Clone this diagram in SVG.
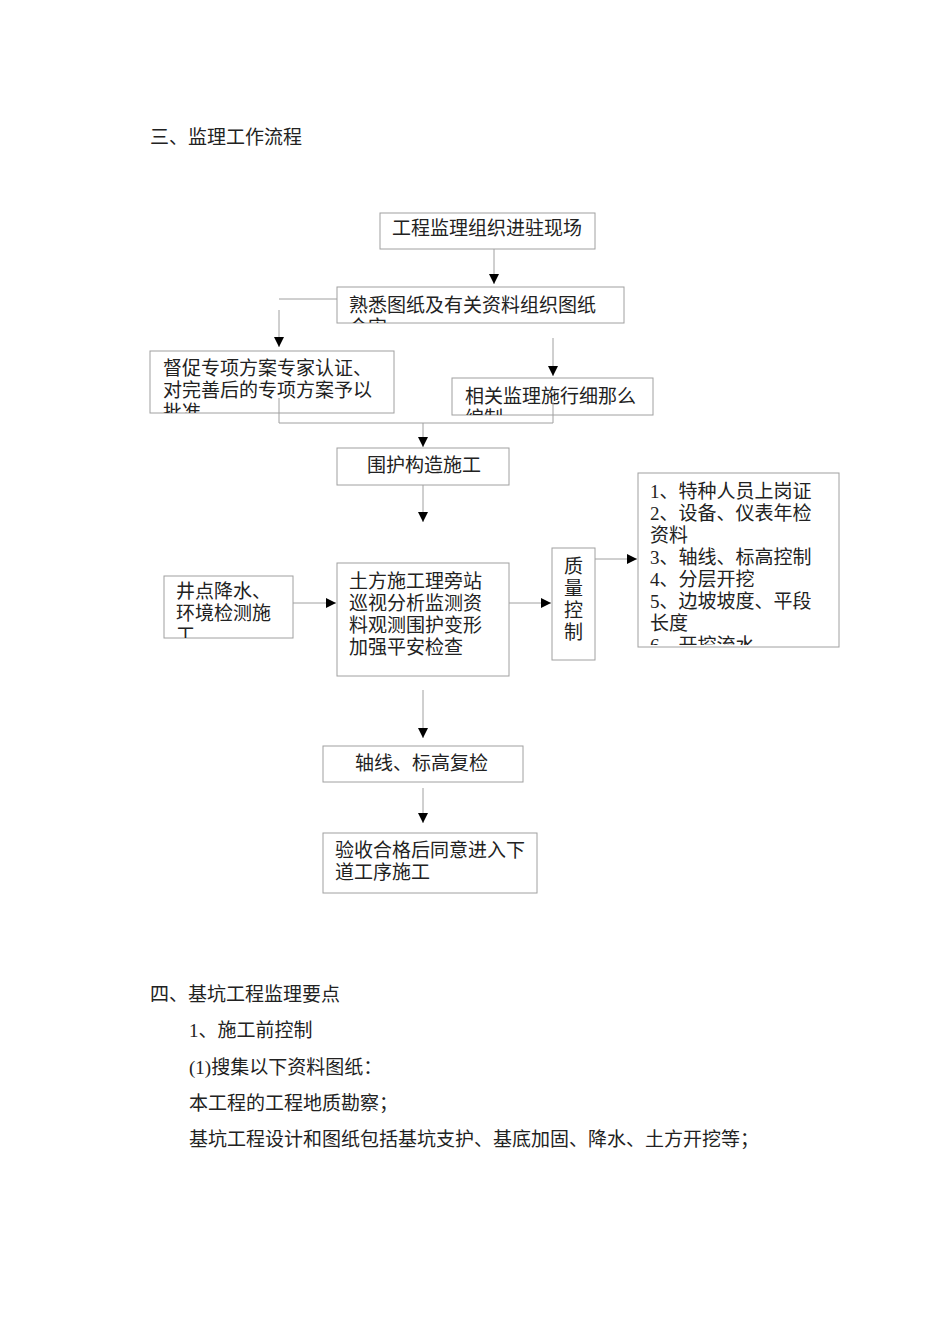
<svg xmlns="http://www.w3.org/2000/svg" width="950" height="1344" viewBox="0 0 950 1344">
<style>
text{font-family:"Liberation Serif","Noto Sans CJK SC",serif;font-size:19px;fill:#222}
.box{fill:#fff;stroke:#a0a0a0;stroke-width:1}
.conn{fill:none;stroke:#a0a0a0;stroke-width:1}
</style>
<defs>
<marker id="arr" markerUnits="userSpaceOnUse" markerWidth="11" markerHeight="11" refX="10" refY="5" orient="auto">
<path d="M0,0 L10,5 L0,10 z" fill="#000"/>
</marker>
<clipPath id="cp2"><rect x="337" y="287" width="287" height="36"/></clipPath>
<clipPath id="cp3"><rect x="150" y="351" width="244" height="62"/></clipPath>
<clipPath id="cp4"><rect x="452" y="378" width="201" height="37"/></clipPath>
<clipPath id="cp6"><rect x="164" y="576" width="129" height="62"/></clipPath>
<clipPath id="cp9"><rect x="638" y="473" width="201" height="172"/></clipPath>
</defs>
<rect width="950" height="1344" fill="#fff"/>
<text x="150" y="144">三、监理工作流程</text>

<g id="n1"><rect class="box" x="380" y="213" width="215" height="36"/><text x="392" y="235">工程监理组织进驻现场</text></g>
<g id="n2"><rect class="box" x="337" y="287" width="287" height="36"/><g clip-path="url(#cp2)"><text x="349" y="312">熟悉图纸及有关资料组织图纸</text><text x="349" y="334">会审</text></g></g>
<g id="n3"><rect class="box" x="150" y="351" width="244" height="62"/><g clip-path="url(#cp3)"><text x="163" y="375">督促专项方案专家认证、</text><text x="163" y="397">对完善后的专项方案予以</text><text x="163" y="419">批准</text></g></g>
<g id="n4"><rect class="box" x="452" y="378" width="201" height="37"/><g clip-path="url(#cp4)"><text x="465" y="403">相关监理施行细那么</text><text x="465" y="425">编制</text></g></g>
<g id="n5"><rect class="box" x="337" y="448" width="172" height="37"/><text x="367" y="472">围护构造施工</text></g>
<g id="n6"><rect class="box" x="164" y="576" width="129" height="62"/><g clip-path="url(#cp6)"><text x="176" y="598">井点降水、</text><text x="176" y="620">环境检测施</text><text x="176" y="642">工</text></g></g>
<g id="n7"><rect class="box" x="337" y="563" width="172" height="113"/><text x="349" y="588">土方施工理旁站</text><text x="349" y="610">巡视分析监测资</text><text x="349" y="632">料观测围护变形</text><text x="349" y="654">加强平安检查</text></g>
<g id="n8"><rect class="box" x="552" y="548" width="43" height="112"/><text x="564" y="573">质</text><text x="564" y="595">量</text><text x="564" y="617">控</text><text x="564" y="639">制</text></g>
<g id="n9"><rect class="box" x="638" y="473" width="201" height="174"/><g clip-path="url(#cp9)"><text x="650" y="498">1、特种人员上岗证</text><text x="650" y="520">2、设备、仪表年检</text><text x="650" y="542">资料</text><text x="650" y="564">3、轴线、标高控制</text><text x="650" y="586">4、分层开挖</text><text x="650" y="608">5、边坡坡度、平段</text><text x="650" y="630">长度</text><text x="650" y="652">6、开挖流水</text></g></g>
<g id="n10"><rect class="box" x="323" y="746" width="200" height="36"/><text x="355" y="770">轴线、标高复检</text></g>
<g id="n11"><rect class="box" x="323" y="833" width="214" height="60"/><text x="335" y="857">验收合格后同意进入下</text><text x="335" y="879">道工序施工</text></g>

<g id="connectors">
<path class="conn" d="M494 249 V284" marker-end="url(#arr)"/>
<path class="conn" d="M337 299 H279"/>
<path class="conn" d="M279 310 V347" marker-end="url(#arr)"/>
<path class="conn" d="M553 338 V376" marker-end="url(#arr)"/>
<path class="conn" d="M279 398 V423 H553 V402"/>
<path class="conn" d="M423 423 V447" marker-end="url(#arr)"/>
<path class="conn" d="M423 485 V522" marker-end="url(#arr)"/>
<path class="conn" d="M293 603 H336" marker-end="url(#arr)"/>
<path class="conn" d="M509 603 H551" marker-end="url(#arr)"/>
<path class="conn" d="M595 559 H637" marker-end="url(#arr)"/>
<path class="conn" d="M423 690 V738" marker-end="url(#arr)"/>
<path class="conn" d="M423 788 V823" marker-end="url(#arr)"/>
</g>

<text x="150" y="1001">四、基坑工程监理要点</text>
<text x="189" y="1037">1、施工前控制</text>
<text x="189" y="1074">(1)搜集以下资料图纸：</text>
<text x="189" y="1110">本工程的工程地质勘察；</text>
<text x="189" y="1146">基坑工程设计和图纸包括基坑支护、基底加固、降水、土方开挖等；</text>
</svg>
